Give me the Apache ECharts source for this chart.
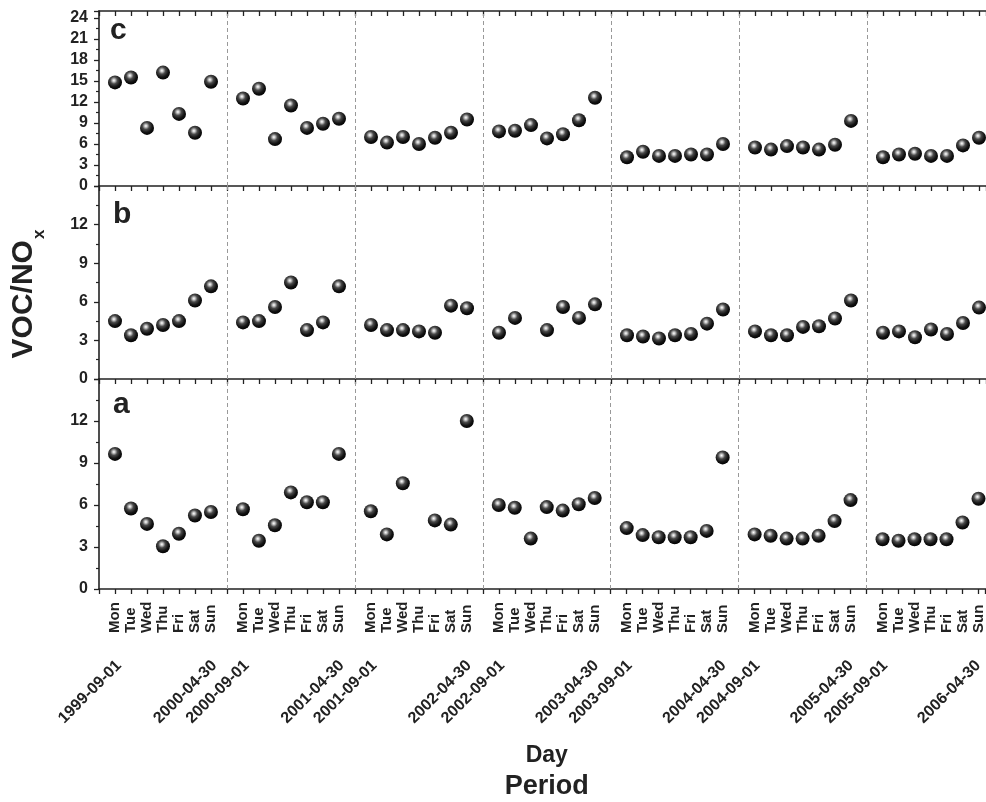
<!DOCTYPE html>
<html><head><meta charset="utf-8">
<script src="https://cdn.jsdelivr.net/npm/echarts@6/dist/echarts.min.js"></script>
<style>html,body{margin:0;padding:0;background:#fff}#main{width:986px;height:802px}</style>
</head><body><div id="main"></div>
<script>
// ---- data ----
const days = ['Mon','Tue','Wed','Thu','Fri','Sat','Sun'];
const startDates = ['1999-09-01','2000-09-01','2001-09-01','2002-09-01','2003-09-01','2004-09-01','2005-09-01'];
const endDates = ['2000-04-30','2001-04-30','2002-04-30','2003-04-30','2004-04-30','2005-04-30','2006-04-30'];
const boundaries = [8,16,24,32,40,48,56];
const panelLetters = ['c','b','a'];
// VOC/NOx per period (rows) and weekday Mon..Sun (columns); null = no value
const panelC = [
  [14.8,15.5,8.3,16.2,10.3,7.6,14.9],
  [12.5,13.9,6.7,11.5,8.3,8.9,9.6],
  [7.0,6.2,7.0,6.0,6.9,7.6,9.5],
  [7.8,7.9,8.7,6.8,7.4,9.4,12.6],
  [4.1,4.9,4.3,4.3,4.5,4.5,6.0],
  [5.5,5.2,5.7,5.5,5.2,5.9,9.3],
  [4.1,4.5,4.6,4.3,4.3,5.8,6.9]
];
const panelB = [
  [4.5,3.4,3.9,4.2,4.5,6.1,7.2],
  [4.4,4.5,5.6,7.5,3.8,4.4,7.2],
  [4.2,3.8,3.8,3.7,3.6,5.7,5.5],
  [3.6,4.75,null,3.8,5.6,4.75,5.8],
  [3.4,3.3,3.15,3.4,3.5,4.3,5.4],
  [3.7,3.4,3.4,4.05,4.1,4.7,6.1],
  [3.6,3.7,3.25,3.85,3.5,4.35,5.55]
];
const panelA = [
  [9.65,5.75,4.65,3.05,3.95,5.25,5.5],
  [5.7,3.45,4.55,6.9,6.2,6.2,9.65],
  [5.55,3.9,7.55,null,4.9,4.6,12.0],
  [6.0,5.8,3.6,5.85,5.6,6.05,6.5],
  [4.35,3.85,3.7,3.7,3.7,4.15,9.4],
  [3.9,3.8,3.6,3.6,3.8,4.85,6.35],
  [3.55,3.45,3.55,3.55,3.55,4.75,6.45]
];

// ---- helpers ----
const FONT = 'Liberation Sans, Arial, Helvetica, sans-serif';
const INK = '#222';
const PX = 16;          // pixels per day slot
const W = 986;          // canvas width
function toPoints(rows){
  const pts = [];
  rows.forEach((row,p)=>row.forEach((v,d)=>{ if(v!==null) pts.push([8*p+d+1, v]); }));
  return pts;
}
const isInt = v => Math.abs(v - Math.round(v)) < 1e-6;
const ball = {
  type:'radial', x:0.42, y:0.36, r:0.66,
  colorStops:[
    {offset:0, color:'#ffffff'},
    {offset:0.14, color:'#c8c8c8'},
    {offset:0.38, color:'#4a4a4a'},
    {offset:0.7, color:'#141414'},
    {offset:1, color:'#000000'}
  ]
};
const L0 = 99, Lstart = 119, Lend = 87;
const grids = [
  {left:L0, top:11, right:0, height:175},
  {left:L0, top:186, right:0, height:193},
  {left:L0, top:379, right:0, height:210},
  {left:Lstart, top:379, right:0, height:210},
  {left:Lend, top:379, right:0, height:210}
];
const maxFor = left => (W - left) / PX;
function baseX(gridIndex, extra){
  return Object.assign({
    type:'value', gridIndex, min:0, max:maxFor(L0), interval:1, position:'bottom',
    axisLine:{show:true, onZero:false, lineStyle:{color:INK, width:1.6}},
    axisTick:{show:true, inside:false, length:5, lineStyle:{color:INK, width:1.3}},
    axisLabel:{show:false},
    splitLine:{show:false}
  }, extra||{});
}
function baseY(gridIndex, max){
  return {
    type:'value', gridIndex, min:0, max, interval:3,
    axisLine:{show:true, onZero:false, lineStyle:{color:INK, width:1.6}},
    axisTick:{show:true, inside:false, length:5, lineStyle:{color:INK, width:1.3}},
    minorTick:{show:true, splitNumber:2, length:3, lineStyle:{color:INK, width:1.2}},
    axisLabel:{show:true, margin:11, color:INK, fontFamily:FONT, fontWeight:'bold', fontSize:16, showMaxLabel:false},
    splitLine:{show:false}
  };
}
const xAxes = [
  baseX(0),
  baseX(0, {position:'top', axisTick:{show:true, inside:true, length:5, lineStyle:{color:INK, width:1.3}}}),
  baseX(1),
  baseX(2, {
    name:'Day', nameLocation:'middle', nameGap:155,
    nameTextStyle:{color:INK, fontFamily:FONT, fontWeight:'bold', fontSize:23, padding:[0,0,0,9]},
    axisLabel:{show:true, rotate:90, align:'left', verticalAlign:'middle', margin:44, color:INK,
      fontFamily:FONT, fontWeight:'bold', fontSize:15,
      formatter:v=>{ if(!isInt(v)) return ''; const k=Math.round(v)%8; return k===0?'':days[k-1]; }}
  }),
  baseX(2, {
    name:'Period', nameLocation:'middle', nameGap:184,
    nameTextStyle:{color:INK, fontFamily:FONT, fontWeight:'bold', fontSize:27, padding:[0,0,0,9]},
    axisLine:{show:false}, axisTick:{show:false}
  }),
  baseX(3, {
    max:maxFor(Lstart), interval:8, axisLine:{show:false}, axisTick:{show:false},
    axisLabel:{show:true, rotate:45, margin:74, color:INK, fontFamily:FONT, fontWeight:'bold', fontSize:16,
      formatter:v=> isInt(v/8) ? (startDates[Math.round(v/8)]||'') : ''}
  }),
  baseX(4, {
    max:maxFor(Lend), interval:8, axisLine:{show:false}, axisTick:{show:false},
    axisLabel:{show:true, rotate:45, margin:74, color:INK, fontFamily:FONT, fontWeight:'bold', fontSize:16,
      formatter:v=> isInt(v/8) ? (endDates[Math.round(v/8)-1]||'') : ''}
  })
];
const yAxes = [
  baseY(0, 25),
  Object.assign(baseY(1, 15), {
    name:'{m|VOC/NO}{s|x}', nameLocation:'middle', nameRotate:90, nameGap:56,
    nameTextStyle:{color:INK, fontFamily:FONT, fontWeight:'bold', padding:[0,23,0,0],
      rich:{
        m:{fontSize:30, fontWeight:'bold', fontFamily:FONT, color:INK, lineHeight:34, verticalAlign:'top'},
        s:{fontSize:17, fontWeight:'bold', fontFamily:FONT, color:INK, lineHeight:17, padding:[22,0,0,1], verticalAlign:'top'}
      }}
  }),
  baseY(2, 15),
  {type:'value', gridIndex:3, min:0, max:15, show:false},
  {type:'value', gridIndex:4, min:0, max:15, show:false}
];
function mkSeries(rows, xi, yi){
  return {
    type:'scatter', xAxisIndex:xi, yAxisIndex:yi, data:toPoints(rows),
    symbol:'circle', symbolSize:14, itemStyle:{color:ball, opacity:1},
    markLine:{silent:true, symbol:['none','none'], label:{show:false},
      lineStyle:{color:'#999', type:[4,3], width:1},
      data:boundaries.map(b=>({xAxis:b}))}
  };
}
const letterPos = [{left:110, top:16}, {left:113, top:200}, {left:113, top:390}];
const option = {
  animation:false,
  backgroundColor:'#fff',
  title: panelLetters.map((t,i)=>({text:t, left:letterPos[i].left, top:letterPos[i].top, padding:0,
    textStyle:{fontFamily:FONT, fontWeight:'bold', fontSize:30, color:INK}})),
  grid: grids,
  xAxis: xAxes,
  yAxis: yAxes,
  series: [mkSeries(panelC,0,0), mkSeries(panelB,2,1), mkSeries(panelA,3,2)]
};
const chart = echarts.init(document.getElementById('main'), null, {renderer:'canvas'});
chart.setOption(option);
</script>
</body></html>
